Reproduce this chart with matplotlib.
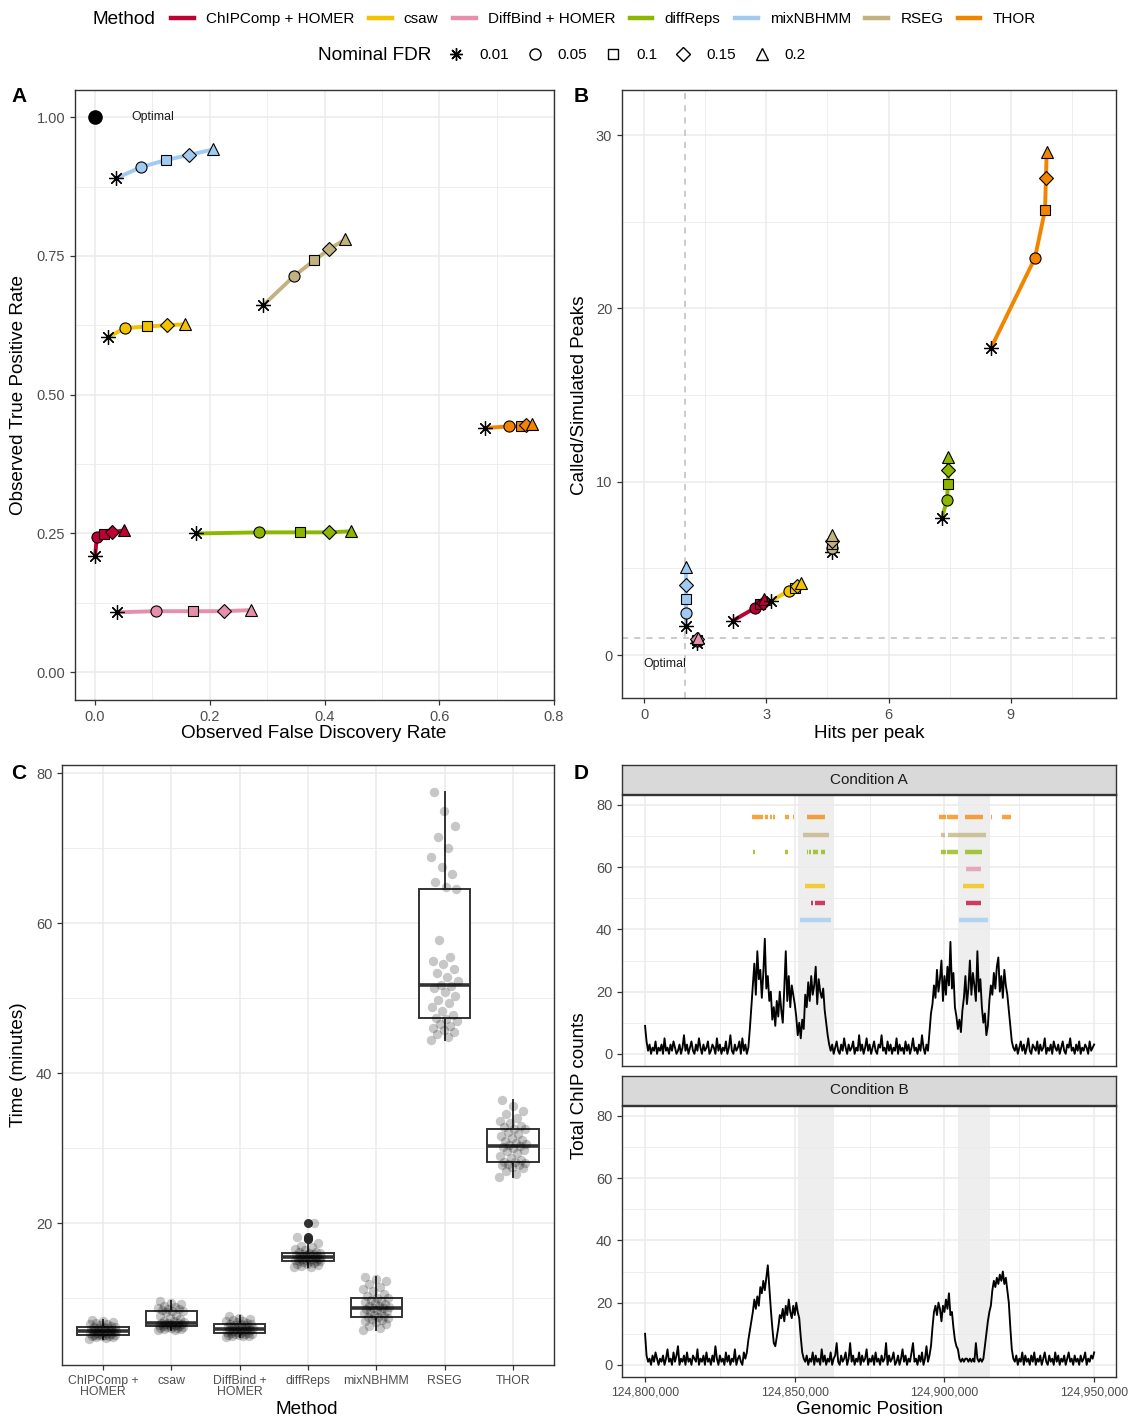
import numpy as np
import matplotlib.pyplot as plt
from matplotlib.lines import Line2D
from matplotlib.ticker import FuncFormatter, MultipleLocator

plt.rcParams['font.family'] = ['Liberation Sans', 'DejaVu Sans']

# ------------------------------------------------------------
# data
# ------------------------------------------------------------
methods = ["ChIPComp + HOMER", "csaw", "DiffBind + HOMER", "diffReps",
           "mixNBHMM", "RSEG", "THOR"]
method_ticklabels = ["ChIPComp +\nHOMER", "csaw", "DiffBind +\nHOMER", "diffReps",
                     "mixNBHMM", "RSEG", "THOR"]
nominal_fdr = ["0.01", "0.05", "0.1", "0.15", "0.2"]

# (A) observed FDR / TPR, one row per method, columns = nominal FDR
obs_fdr = [
    [0.000, 0.003, 0.016, 0.030, 0.051],
    [0.023, 0.052, 0.091, 0.125, 0.157],
    [0.038, 0.106, 0.171, 0.225, 0.272],
    [0.176, 0.286, 0.357, 0.408, 0.446],
    [0.037, 0.080, 0.124, 0.164, 0.206],
    [0.293, 0.347, 0.382, 0.408, 0.436],
    [0.680, 0.722, 0.743, 0.751, 0.762],
]
obs_tpr = [
    [0.209, 0.243, 0.249, 0.252, 0.256],
    [0.604, 0.620, 0.623, 0.625, 0.627],
    [0.108, 0.110, 0.110, 0.110, 0.112],
    [0.250, 0.252, 0.252, 0.252, 0.254],
    [0.890, 0.910, 0.923, 0.932, 0.942],
    [0.661, 0.714, 0.742, 0.762, 0.780],
    [0.440, 0.443, 0.443, 0.445, 0.447],
]

# (B) hits per peak / called-to-simulated peak ratio
hits_per_peak = [
    [2.18, 2.72, 2.85, 2.92, 2.94],
    [3.11, 3.56, 3.70, 3.75, 3.84],
    [1.30, 1.30, 1.31, 1.31, 1.32],
    [7.31, 7.43, 7.46, 7.46, 7.46],
    [1.02, 1.02, 1.02, 1.02, 1.02],
    [4.62, 4.62, 4.62, 4.62, 4.62],
    [8.51, 9.59, 9.84, 9.86, 9.88],
]
called_ratio = [
    [1.98, 2.71, 2.94, 3.00, 3.21],
    [3.12, 3.71, 3.87, 3.98, 4.17],
    [0.72, 0.80, 0.85, 0.90, 0.98],
    [7.90, 8.94, 9.87, 10.67, 11.40],
    [1.67, 2.42, 3.23, 4.04, 5.08],
    [5.94, 6.20, 6.40, 6.60, 6.90],
    [17.7, 22.9, 25.7, 27.5, 29.0],
]

# (C) run times in minutes
time_chipcomp = [4.6, 4.7, 4.8, 4.85, 4.9, 4.95, 5.0, 5.02, 5.05, 5.07, 5.08, 5.15, 5.2,
                 5.3, 5.35, 5.4, 5.45, 5.5, 5.55, 5.6, 5.62, 5.65, 5.7, 5.75, 5.8, 5.85,
                 5.9, 6.0, 6.05, 6.12, 6.15, 6.2, 6.3, 6.4, 6.5, 6.6, 6.7, 6.8, 6.95, 7.1]
time_csaw = [5.7, 5.8, 5.85, 5.9, 5.95, 6.0, 6.05, 6.1, 6.2, 6.26, 6.28, 6.32, 6.36, 6.4,
             6.45, 6.5, 6.55, 6.6, 6.65, 6.7, 6.72, 6.8, 6.9, 7.0, 7.2, 7.4, 7.6, 7.8, 8.1,
             8.3, 8.32, 8.4, 8.5, 8.6, 8.7, 8.8, 9.0, 9.2, 9.4, 9.64]
time_diffbind = [4.8, 4.9, 4.95, 5.0, 5.05, 5.1, 5.15, 5.2, 5.25, 5.28, 5.3, 5.35, 5.45,
                 5.5, 5.55, 5.6, 5.7, 5.75, 5.8, 5.86, 5.88, 5.95, 6.0, 6.1, 6.15, 6.2,
                 6.3, 6.35, 6.45, 6.52, 6.54, 6.6, 6.7, 6.8, 6.9, 7.0, 7.1, 7.25, 7.4, 7.6]
time_diffreps = [14.1, 14.2, 14.3, 14.4, 14.5, 14.6, 14.7, 14.8, 14.9, 14.95, 14.96, 15.0,
                 15.05, 15.1, 15.15, 15.2, 15.25, 15.3, 15.35, 15.4, 15.44, 15.5, 15.55,
                 15.6, 15.65, 15.7, 15.8, 15.85, 15.9, 16.0, 16.02, 16.1, 16.2, 16.4,
                 16.6, 16.8, 17.0, 17.4, 17.9, 18.2, 20.0]
time_mixnbhmm = [5.73, 6.0, 6.3, 6.6, 6.8, 7.0, 7.1, 7.2, 7.35, 7.45, 7.5, 7.65, 7.8, 7.95,
                 8.1, 8.2, 8.3, 8.45, 8.55, 8.65, 8.7, 8.8, 8.9, 9.0, 9.15, 9.3, 9.45, 9.6,
                 9.8, 9.98, 10.05, 10.3, 10.6, 10.9, 11.2, 11.5, 11.9, 12.3, 12.6, 12.76]
time_rseg = [44.4, 44.8, 45.2, 45.5, 45.8, 46.0, 46.3, 46.6, 46.9, 47.2, 47.3, 47.8, 48.3,
             48.8, 49.3, 49.8, 50.3, 50.8, 51.3, 51.6, 51.8, 52.3, 52.8, 53.3, 53.9, 54.5,
             55.0, 55.5, 57.8, 64.5, 64.8, 65.5, 66.5, 67.5, 68.8, 70.0, 71.5, 73.0,
             75.0, 77.47]
time_thor = [26.1, 26.6, 27.0, 27.3, 27.5, 27.7, 27.8, 27.9, 28.0, 28.1, 28.15, 28.4, 28.7,
             29.0, 29.3, 29.6, 29.8, 30.0, 30.2, 30.3, 30.35, 30.5, 30.7, 30.9, 31.1, 31.3,
             31.6, 31.9, 32.2, 32.5, 32.6, 32.8, 33.0, 33.3, 33.6, 34.0, 34.5, 35.0, 35.6,
             36.4]
run_times = [time_chipcomp, time_csaw, time_diffbind, time_diffreps,
             time_mixnbhmm, time_rseg, time_thor]

# (D) ChIP coverage in 500 bp bins starting at 124,800,000
bin_start = 124_800_000
bin_size = 500
cov_a = [9, 4, 1, 3, 0, 2, 1, 4, 0, 2,
         1, 3, 0, 5, 1, 2, 0, 3, 1, 4,
         2, 0, 1, 3, 0, 2, 6, 1, 3, 0,
         2, 4, 1, 0, 3, 1, 5, 2, 0, 3,
         1, 2, 4, 0, 1, 3, 2, 0, 5, 1,
         3, 0, 2, 1, 4, 0, 2, 6, 1, 0,
         3, 1, 2, 4, 0, 5, 1, 3, 0, 2,
         8, 15, 22, 29, 19, 33, 24, 27, 18, 26,
         37, 21, 25, 17, 20, 11, 15, 9, 17, 12,
         20, 14, 10, 21, 33, 17, 25, 15, 22, 19,
         16, 12, 6, 10, 5, 11, 8, 19, 15, 23,
         17, 25, 19, 22, 28, 16, 24, 20, 18, 21,
         14, 10, 6, 3, 1, 3, 0, 2, 4, 1,
         0, 3, 1, 5, 2, 0, 3, 1, 2, 4,
         0, 2, 1, 6, 1, 3, 0, 2, 5, 1,
         3, 0, 2, 4, 1, 0, 3, 2, 6, 1,
         2, 0, 4, 1, 3, 0, 2, 1, 5, 0,
         3, 1, 2, 0, 4, 1, 3, 0, 2, 5,
         1, 2, 0, 3, 1, 6, 2, 0, 3, 1,
         7, 13, 16, 22, 18, 27, 20, 24, 30, 17,
         25, 19, 28, 22, 36, 21, 26, 15, 12, 8,
         11, 7, 14, 18, 25, 16, 21, 30, 19, 26,
         22, 17, 33, 20, 24, 15, 10, 13, 6, 9,
         17, 22, 19, 26, 21, 28, 31, 20, 25, 18,
         27, 22, 19, 14, 9, 4, 2, 1, 3, 0,
         2, 4, 1, 3, 0, 2, 5, 1, 0, 3,
         2, 1, 4, 0, 3, 1, 2, 5, 0, 2,
         1, 3, 0, 4, 2, 1, 3, 0, 2, 4,
         1, 0, 3, 2, 5, 1, 2, 0, 3, 1,
         4, 0, 2, 1, 3, 2, 0, 4, 1, 2,
         3]
cov_b = [10, 3, 1, 2, 0, 3, 1, 4, 2, 0,
         2, 1, 3, 0, 2, 5, 1, 2, 0, 4,
         1, 3, 6, 0, 2, 1, 3, 0, 4, 1,
         2, 0, 3, 2, 1, 5, 0, 2, 1, 3,
         0, 4, 1, 2, 0, 3, 1, 6, 2, 0,
         3, 1, 2, 0, 4, 1, 3, 0, 2, 1,
         5, 0, 2, 3, 1, 0, 4, 2, 4, 8,
         11, 14, 17, 21, 18, 22, 19, 25, 23, 27,
         24, 28, 32, 25, 18, 12, 7, 6, 9, 12,
         16, 15, 18, 14, 19, 16, 21, 17, 15, 19,
         16, 20, 17, 15, 9, 4, 2, 1, 3, 0,
         2, 1, 4, 0, 3, 1, 2, 0, 5, 1,
         3, 0, 2, 1, 4, 0, 2, 3, 7, 1,
         0, 3, 1, 2, 4, 0, 2, 7, 1, 3,
         0, 2, 1, 4, 0, 3, 1, 2, 5, 0,
         2, 1, 3, 0, 4, 1, 2, 0, 3, 1,
         2, 7, 0, 3, 1, 2, 4, 0, 1, 3,
         0, 2, 5, 1, 3, 0, 2, 1, 4, 7,
         1, 2, 0, 3, 1, 4, 0, 2, 6, 1,
         3, 6, 12, 17, 19, 16, 20, 18, 14, 19,
         17, 21, 18, 23, 16, 17, 12, 8, 6, 5,
         2, 1, 2, 1, 2, 2, 1, 2, 1, 2,
         1, 7, 2, 1, 2, 1, 2, 6, 10, 14,
         17, 19, 24, 27, 25, 28, 26, 29, 27, 30,
         26, 28, 24, 20, 12, 5, 2, 1, 3, 0,
         2, 1, 4, 0, 3, 1, 2, 0, 3, 1,
         4, 0, 2, 1, 3, 0, 2, 4, 1, 0,
         3, 1, 2, 0, 4, 1, 3, 0, 2, 1,
         3, 0, 2, 4, 1, 2, 0, 3, 1, 2,
         0, 3, 1, 2, 4, 0, 2, 1, 3, 2,
         4]

# simulated differential regions and peak calls per method
diff_regions = [(124851200, 124863000), (124904500, 124915100)]
calls_thor = [(124835850, 124839300), (124840080, 124840980), (124841640, 124842300),
              (124842750, 124843420), (124846650, 124848200), (124849320, 124849770),
              (124854000, 124860120), (124898200, 124900530), (124900970, 124904440),
              (124906880, 124912890), (124915560, 124916000), (124919130, 124922240)]
calls_rseg = [(124852880, 124861460), (124898860, 124900100), (124901300, 124913890)]
calls_diffreps = [(124835960, 124836840), (124846760, 124847760), (124854000, 124854330),
                  (124854780, 124855440), (124856000, 124857680), (124858780, 124860000),
                  (124898860, 124900530), (124900970, 124904440), (124906880, 124912560)]
calls_diffbind = [(124907210, 124912220)]
calls_csaw = [(124853550, 124860120), (124906210, 124913110)]
calls_chipcomp = [(124855440, 124856000), (124856880, 124860120), (124907320, 124912220)]
calls_mixnbhmm = [(124851880, 124862120), (124904880, 124914660)]
# top to bottom
track_methods = ["THOR", "RSEG", "diffReps", "DiffBind + HOMER", "csaw",
                 "ChIPComp + HOMER", "mixNBHMM"]
track_calls = [calls_thor, calls_rseg, calls_diffreps, calls_diffbind, calls_csaw,
               calls_chipcomp, calls_mixnbhmm]

# ------------------------------------------------------------
# styling
# ------------------------------------------------------------
colors = ['#BE0032', '#F3C300', '#E68FAC', '#8DB600', '#A1CAF1', '#C2B280', '#F38400']
color_of = dict(zip(methods, colors))
fdr_markers = [(8, 2, 0), 'o', 's', 'D', '^']
fdr_msize = [10.5, 8, 7.5, 7, 8.5]

W, H = 1128, 1420
fig = plt.figure(figsize=(W / 100, H / 100), dpi=100)


def rect(l, t, r, b):
    return [l / W, 1 - b / H, (r - l) / W, (b - t) / H]


def ftext(x, y, s, **kw):
    kw.setdefault('ha', 'center')
    kw.setdefault('va', 'center')
    return fig.text(x / W, 1 - y / H, s, **kw)


def theme_bw(ax, labelsize=10.5):
    ax.set_facecolor('white')
    for sp in ax.spines.values():
        sp.set_color('#333333')
        sp.set_linewidth(1.0)
    ax.set_axisbelow(True)
    ax.grid(True, which='major', color='#EBEBEB', lw=1.1)
    ax.grid(True, which='minor', color='#EBEBEB', lw=0.6)
    ax.tick_params(which='major', length=3.5, width=0.9, color='#333333',
                   labelcolor='#4D4D4D', labelsize=labelsize)
    ax.tick_params(which='minor', length=0)


def draw_curves(ax, xs, ys):
    for i, m in enumerate(methods):
        ax.plot(xs[i], ys[i], color=colors[i], lw=2.8, solid_capstyle='butt', zorder=2)
    for i, m in enumerate(methods):
        for j, mk in enumerate(fdr_markers):
            if j == 0:
                ax.plot(xs[i][j], ys[i][j], ls='none', marker=mk, color='black',
                        ms=fdr_msize[j], mew=0.9, zorder=3)
            else:
                ax.plot(xs[i][j], ys[i][j], ls='none', marker=mk, mfc=colors[i],
                        mec='black', mew=0.8, ms=fdr_msize[j], zorder=3)


# ------------------------------------------------------------
# A: observed FDR vs TPR
# ------------------------------------------------------------
axA = fig.add_axes(rect(75, 90, 554, 700))
theme_bw(axA)
draw_curves(axA, obs_fdr, obs_tpr)
axA.plot(0, 1, 'o', color='black', ms=9.5, zorder=3)
axA.text(0.1, 1.0, 'Optimal', fontsize=8.8, ha='center', va='center', color='#1A1A1A')
axA.set_xlim(-0.035, 0.8)
axA.set_ylim(-0.05, 1.049)
axA.set_xticks([0, 0.2, 0.4, 0.6, 0.8])
axA.set_xticklabels(['0.0', '0.2', '0.4', '0.6', '0.8'])
axA.xaxis.set_minor_locator(MultipleLocator(0.1))
axA.set_yticks([0, 0.25, 0.5, 0.75, 1.0])
axA.set_yticklabels(['0.00', '0.25', '0.50', '0.75', '1.00'])
axA.yaxis.set_minor_locator(MultipleLocator(0.125))

# ------------------------------------------------------------
# B: hits per peak vs called/simulated peaks
# ------------------------------------------------------------
axB = fig.add_axes(rect(622, 90, 1116, 698))
theme_bw(axB)
axB.axvline(1, color='#BDBDBD', ls=(0, (4, 4)), lw=1.1, zorder=1)
axB.axhline(1, color='#BDBDBD', ls=(0, (4, 4)), lw=1.1, zorder=1)
draw_curves(axB, hits_per_peak, called_ratio)
axB.text(0.5, -0.5, 'Optimal', fontsize=8.8, ha='center', va='center', color='#1A1A1A')
axB.set_xlim(-0.54, 11.58)
axB.set_ylim(-2.48, 32.6)
axB.set_xticks([0, 3, 6, 9])
axB.xaxis.set_minor_locator(MultipleLocator(1.5))
axB.set_yticks([0, 10, 20, 30])
axB.yaxis.set_minor_locator(MultipleLocator(5))

# ------------------------------------------------------------
# C: run times
# ------------------------------------------------------------
axC = fig.add_axes(rect(62, 765, 554, 1365))
theme_bw(axC)
pos = np.arange(1, len(methods) + 1)
axC.boxplot(run_times, positions=pos, widths=0.75, whis=1.5, patch_artist=True,
            showcaps=False,
            boxprops=dict(facecolor='white', edgecolor='#333333', lw=1.4),
            medianprops=dict(color='#333333', lw=2.6),
            whiskerprops=dict(color='#333333', lw=1.4),
            flierprops=dict(marker='o', mfc='#333333', mec='#333333', ms=5.5),
            zorder=2)
for p, vals in zip(pos, run_times):
    n = len(vals)
    jitter = ((np.arange(n) * 0.618034) % 1 - 0.5) * 0.4
    axC.scatter(p + jitter, vals, s=46, color='black', alpha=0.22, lw=0, zorder=3)
axC.set_xlim(0.4, 7.6)
axC.set_ylim(1.07, 81.07)
axC.set_xticks(pos)
axC.set_xticklabels(method_ticklabels, fontsize=8.8, linespacing=0.95)
axC.set_yticks([20, 40, 60, 80])
axC.yaxis.set_minor_locator(MultipleLocator(10))

# ------------------------------------------------------------
# D: coverage tracks
# ------------------------------------------------------------
positions = bin_start + bin_size * np.arange(len(cov_a))
track_levels = 76 - 5.5 * np.arange(len(track_methods))


def genomic(x, _):
    return f'{int(x):,}'


for k, (cov, title, top, bottom) in enumerate(
        [(cov_a, 'Condition A', 795, 1066), (cov_b, 'Condition B', 1106, 1377)]):
    ax = fig.add_axes(rect(622, top, 1116, bottom))
    theme_bw(ax)
    for s, e in diff_regions:
        ax.axvspan(s, e, color='#E3E3E3', alpha=0.6, lw=0, zorder=0.5)
    ax.plot(positions, cov, color='black', lw=1.35, zorder=3)
    if k == 0:
        for lvl, m, calls in zip(track_levels, track_methods, track_calls):
            ax.hlines([lvl] * len(calls), [c[0] for c in calls], [c[1] for c in calls],
                      color=color_of[m], lw=3.2, alpha=0.75, zorder=2)
    ax.set_xlim(124792300, 124957300)
    ax.set_ylim(-3.9, 83.2)
    ax.set_xticks([124800000, 124850000, 124900000, 124950000])
    ax.xaxis.set_minor_locator(MultipleLocator(25000))
    ax.xaxis.set_major_formatter(FuncFormatter(genomic))
    ax.set_yticks([0, 20, 40, 60, 80])
    ax.yaxis.set_minor_locator(MultipleLocator(10))
    if k == 0:
        ax.tick_params(axis='x', which='both', length=0, labelbottom=False)
    else:
        ax.tick_params(axis='x', labelsize=8.8)
    strip = fig.add_axes(rect(622, top - 30, 1116, top - 1))
    strip.set_facecolor('#D9D9D9')
    strip.set_xticks([])
    strip.set_yticks([])
    for sp in strip.spines.values():
        sp.set_color('#333333')
        sp.set_linewidth(1.0)
    strip.text(0.5, 0.5, title, transform=strip.transAxes, ha='center', va='center',
               fontsize=11, color='#1A1A1A')

# ------------------------------------------------------------
# titles, labels, legends
# ------------------------------------------------------------
lab = dict(fontsize=13.6, color='black')
ftext(314, 734, 'Observed False Discovery Rate', **lab)
ftext(19, 395, 'Observed True Positive Rate', rotation=90, **lab)
ftext(869, 734, 'Hits per peak', **lab)
ftext(580, 395, 'Called/Simulated Peaks', rotation=90, **lab)
ftext(307, 1409, 'Method', **lab)
ftext(19, 1065, 'Time (minutes)', rotation=90, **lab)
ftext(869, 1409, 'Genomic Position', **lab)
ftext(580, 1086, 'Total ChIP counts', rotation=90, **lab)
for letter, x, y in [('A', 19, 97), ('B', 581, 97), ('C', 19, 773), ('D', 581, 773)]:
    ftext(x, y, letter, fontsize=15, fontweight='bold')

ftext(93, 19, 'Method', ha='left', fontsize=13.7)
h1 = [Line2D([], [], color=c, lw=3.2) for c in colors]
fig.legend(h1, methods, loc='center left', bbox_to_anchor=(171 / W, 1 - 19 / H),
           ncol=7, frameon=False, fontsize=11, handlelength=1.5, handletextpad=0.8,
           columnspacing=0.93, borderpad=0, borderaxespad=0)

ftext(318, 55, 'Nominal FDR', ha='left', fontsize=13.7)
h2 = [Line2D([], [], ls='none', marker=mk, mfc='none', mec='black', mew=1.0,
             ms=fdr_msize[j] if j else 9) for j, mk in enumerate(fdr_markers)]
fig.legend(h2, nominal_fdr, loc='center left', bbox_to_anchor=(447 / W, 1 - 55 / H),
           ncol=5, frameon=False, fontsize=11, handlelength=1.2, handletextpad=0.9,
           columnspacing=1.1, borderpad=0, borderaxespad=0)

fig.savefig('out.png', dpi=100)
